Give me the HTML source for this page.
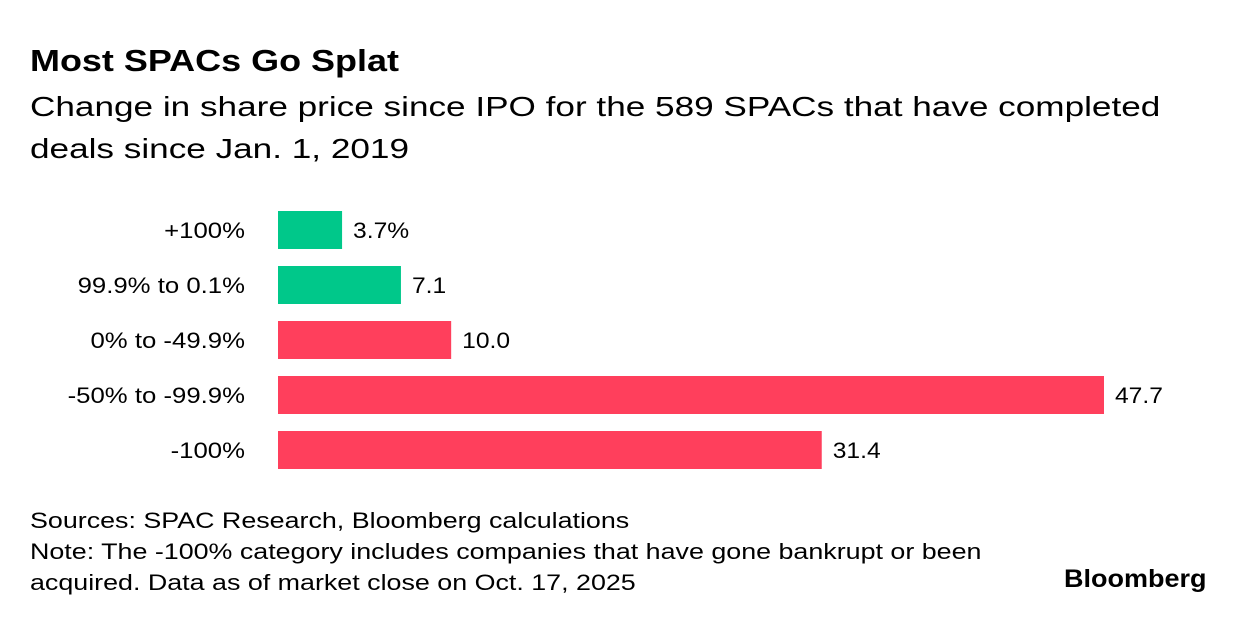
<!DOCTYPE html>
<html><head><meta charset="utf-8"><style>
body{margin:0;background:#fff;width:1236px;height:624px;overflow:hidden;font-family:"Liberation Sans",sans-serif;color:#000}
.t{position:absolute;white-space:nowrap;transform-origin:left top}
.cl{transform-box:fill-box;transform-origin:right center;transform:scaleX(1.17)}
.vl{transform-box:fill-box;transform-origin:left center;transform:scaleX(1.12)}
</style></head><body>
<div class="t" style="left:30px;top:43px;font-size:31px;font-weight:bold;transform:scaleX(1.16)">Most SPACs Go Splat</div>
<div class="t" style="left:30px;top:86px;font-size:28px;line-height:42px;transform:scaleX(1.255)">Change in share price since IPO for the 589 SPACs that have completed<br>deals since Jan. 1, 2019</div>
<svg id="chart" width="1236" height="624" style="position:absolute;left:0;top:0"></svg>
<div class="t" style="left:30px;top:505px;font-size:22px;line-height:31px;transform:scaleX(1.22)">Sources: SPAC Research, Bloomberg calculations<br>Note: The -100% category includes companies that have gone bankrupt or been<br>acquired. Data as of market close on Oct. 17, 2025</div>
<div class="t" style="left:1064px;top:565px;font-size:25px;font-weight:bold;transform:scaleX(1.08)">Bloomberg</div>
<script>
const categories=["+100%","99.9% to 0.1%","0% to -49.9%","-50% to -99.9%","-100%"];
const values=[3.7,7.1,10.0,47.7,31.4];
const valueLabels=["3.7%","7.1","10.0","47.7","31.4"];
const positive=[true,true,false,false,false];
const svg=document.getElementById('chart');
const NS='http://www.w3.org/2000/svg';
const x0=278,scale=(1104-278)/47.7;
const x=v=>x0+v*scale;
const y=i=>211+i*55;
categories.forEach((c,i)=>{
  const r=document.createElementNS(NS,'rect');
  
  
  r.setAttribute('x',x0);r.setAttribute('y',y(i));
  r.setAttribute('width',x(values[i])-x0);r.setAttribute('height',38);
  r.setAttribute('fill',positive[i]?'#00c88a':'#ff3f5c');
  svg.appendChild(r);
  const l=document.createElementNS(NS,'text');
  
  
  l.setAttribute('class','cl');
  l.setAttribute('x',245);l.setAttribute('y',y(i)+27);
  l.setAttribute('text-anchor','end');l.setAttribute('font-size','22');
  l.textContent=c;svg.appendChild(l);
  const v=document.createElementNS(NS,'text');
  
  
  v.setAttribute('class','vl');
  v.setAttribute('x',x(values[i])+11);v.setAttribute('y',y(i)+27);
  v.setAttribute('font-size','22');
  v.textContent=valueLabels[i];svg.appendChild(v);
});
</script>
</body></html>
